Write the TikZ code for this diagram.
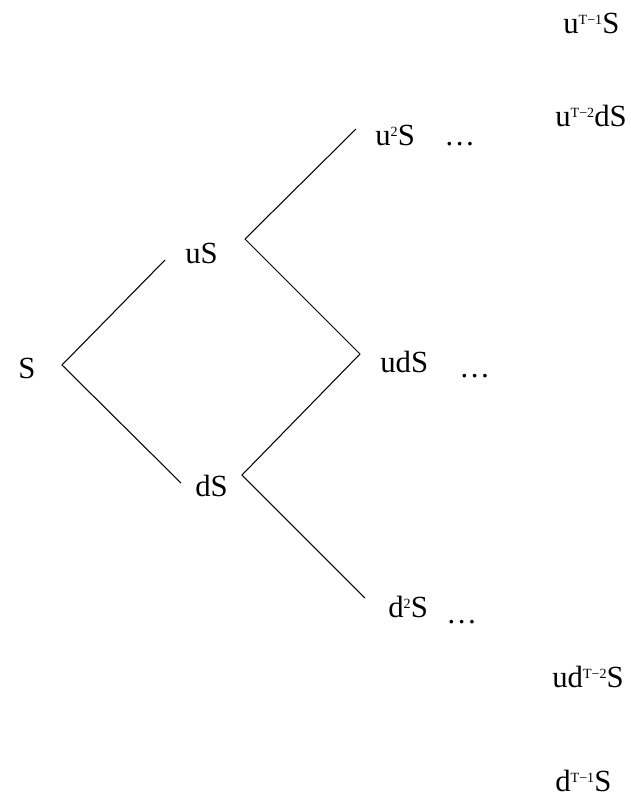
\documentclass[tikz,border=0pt]{standalone}
\usepackage{fontspec}
\setmainfont{Liberation Serif}
\usetikzlibrary{positioning}

\newcommand{\powr}[1]{\raisebox{0.6ex}{\fontsize{8}{8}\selectfont #1}}

\tikzset{lbl/.style={anchor=base west, inner sep=0pt, font=\fontsize{17.5}{20}\selectfont},
         branch/.style={black, line width=0.6pt}}

\begin{document}
\begin{tikzpicture}[x=0.02cm, y=-0.02cm]
\useasboundingbox (0,0) rectangle (630,795);

% step 0 and step 1
\node[lbl] (S) at (18,378) {S};
\node[lbl] (uS) at (185,263) {uS};
\node[lbl] (dS) at (195,496) {dS};

% step 2
\node[lbl] (uuS) at (375,145) {u\powr{2}S};
\node[lbl] (udS) at (380,372) {udS};
\node[lbl] (ddS) at (388,617) {d\powr{2}S};

\node[lbl] (uuDots) at (444,145) {\ldots};
\node[lbl] (udDots) at (459,377) {\ldots};
\node[lbl] (ddDots) at (446,623) {\ldots};

% last step
\node[lbl] (uTop) at (563,33) {u\powr{T−1}S};
\node[lbl] (uTopd) at (555,126) {u\powr{T−2}dS};
\node[lbl] (udBot) at (552,687) {ud\powr{T−2}S};
\node[lbl] (dBot) at (555,791) {d\powr{T−1}S};

% end points of the branches
\coordinate (S-r) at (62,365);
\coordinate (uS-l) at (165,260);
\coordinate (uS-r) at (245,239);
\coordinate (dS-l) at (181,483);
\coordinate (dS-r) at (242,475);
\coordinate (uuS-l) at (356,129);
\coordinate (udS-l) at (360,354);
\coordinate (ddS-l) at (365,598);

\draw[branch] (uS-l)--(S-r)--(dS-l);
\draw[branch] (uuS-l)--(uS-r)--(udS-l);
\draw[branch] (udS-l)--(dS-r)--(ddS-l);

\end{tikzpicture}
\end{document}
